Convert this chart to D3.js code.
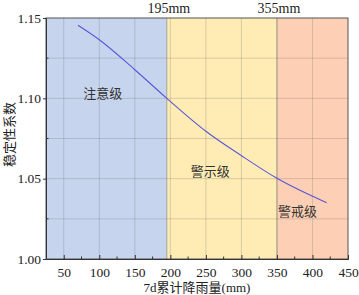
<!DOCTYPE html>
<html>
<head>
<meta charset="utf-8">
<script src="https://cdn.jsdelivr.net/npm/d3@7"></script>
<style>
  body { margin: 0; background: #fff; }
  svg text { font-family: "Liberation Serif", "Noto Sans CJK SC", serif; fill: #222; }
</style>
</head>
<body>
<div id="chart"></div>
<script>
// rainfall (mm) vs stability factor
const rainfall = [70, 100, 150, 195, 250, 300, 350, 420];
const stability = [1.1455, 1.1365, 1.1178, 1.1000, 1.0795, 1.0643, 1.0502, 1.0350];

// warning zones
const zoneNames = ["注意级", "警示级", "警戒级"];
const zoneStart = [25, 195, 350];
const zoneEnd = [195, 350, 450];
const zoneColors = ["#c6d4ed", "#feecb4", "#fdcfb4"];
const zoneLabelX = [105, 256, 379];
const zoneLabelY = [1.1005, 1.0517, 1.0268];
const boundaryLabels = ["195mm", "355mm"];

const xTicks = [50, 100, 150, 200, 250, 300, 350, 400, 450];
const yTicks = [1.00, 1.05, 1.10, 1.15];

const margin = { top: 18, right: 11, bottom: 36, left: 46 };
const width = 359 - margin.left - margin.right;
const height = 295 - margin.top - margin.bottom;

const svg = d3.select("#chart").append("svg")
    .attr("width", 359)
    .attr("height", 295)
  .append("g")
    .attr("transform", `translate(${margin.left},${margin.top})`);

const xScale = d3.scaleLinear().domain([25, 450]).range([0, width]);
const yScale = d3.scaleLinear().domain([1.00, 1.15]).range([height, 0]);

// zone backgrounds
svg.selectAll("rect.zone")
    .data(zoneNames)
  .enter().append("rect")
    .attr("class", "zone")
    .attr("x", (d, i) => xScale(zoneStart[i]))
    .attr("y", 0)
    .attr("width", (d, i) => xScale(zoneEnd[i]) - xScale(zoneStart[i]))
    .attr("height", height)
    .style("fill", (d, i) => zoneColors[i]);

// grid
const xGrid = d3.range(50, 450, 50);
const yGrid = d3.range(1.025, 1.15, 0.025);
svg.selectAll("line.vgrid")
    .data(xGrid)
  .enter().append("line")
    .attr("x1", d => xScale(d)).attr("x2", d => xScale(d))
    .attr("y1", 0).attr("y2", height)
    .style("stroke", "rgba(90,90,90,0.22)");
svg.selectAll("line.hgrid")
    .data(yGrid)
  .enter().append("line")
    .attr("x1", 0).attr("x2", width)
    .attr("y1", d => yScale(d)).attr("y2", d => yScale(d))
    .style("stroke", "rgba(90,90,90,0.22)");

// zone boundaries
svg.selectAll("line.bound")
    .data(zoneStart.slice(1))
  .enter().append("line")
    .attr("x1", d => xScale(d)).attr("x2", d => xScale(d))
    .attr("y1", 0).attr("y2", height)
    .style("stroke", "rgba(110,110,110,0.55)");

svg.selectAll("text.bound")
    .data(boundaryLabels)
  .enter().append("text")
    .attr("x", (d, i) => xScale(zoneStart[i + 1]) + 2)
    .attr("y", -5)
    .style("text-anchor", "middle")
    .style("font-size", "14px")
    .text(d => d);

// curve
const line = d3.line()
    .x((d, i) => xScale(rainfall[i]))
    .y(d => yScale(d))
    .curve(d3.curveMonotoneX);
svg.append("path")
    .datum(stability)
    .attr("d", line)
    .style("fill", "none")
    .style("stroke", "#5a58d8")
    .style("stroke-width", 1.1);

// zone labels
svg.selectAll("text.zone")
    .data(zoneNames)
  .enter().append("text")
    .attr("x", (d, i) => xScale(zoneLabelX[i]))
    .attr("y", (d, i) => yScale(zoneLabelY[i]))
    .style("text-anchor", "middle")
    .style("font-size", "13px")
    .style("fill", "#333")
    .text(d => d);

// frame
svg.append("rect")
    .attr("width", width).attr("height", height)
    .style("fill", "none")
    .style("stroke", "#555");

// axes
const xAxis = svg.append("g")
    .attr("transform", `translate(0,${height})`)
    .call(d3.axisBottom(xScale).tickValues(xTicks).tickSize(-4).tickPadding(8).tickFormat(d3.format("d")));
xAxis.selectAll("line.minor")
    .data(d3.range(75, 450, 50))
  .enter().append("line")
    .attr("x1", d => xScale(d)).attr("x2", d => xScale(d))
    .attr("y1", 0).attr("y2", -2.5)
    .style("stroke", "#333");

const yAxis = svg.append("g")
    .call(d3.axisLeft(yScale).tickValues(yTicks).tickSize(3).tickPadding(2).tickFormat(d3.format(".2f")));
yAxis.selectAll("line.minor")
    .data([1.025, 1.075, 1.125])
  .enter().append("line")
    .attr("x1", 0).attr("x2", 2.5)
    .attr("y1", d => yScale(d)).attr("y2", d => yScale(d))
    .style("stroke", "#333");

[xAxis, yAxis].forEach(a => {
    a.select(".domain").style("stroke", "#333");
    a.selectAll(".tick line").style("stroke", "#333");
    a.selectAll(".tick text")
        .style("font-size", "13.5px")
        .style("font-family", "Liberation Serif")
        .style("fill", "#222");
});

// axis titles
svg.append("text")
    .attr("x", width / 2)
    .attr("y", height + 33)
    .style("text-anchor", "middle")
    .style("font-size", "13px")
    .text("7d累计降雨量(mm)");

svg.append("text")
    .attr("transform", "rotate(-90)")
    .attr("x", -(height / 2) + 4)
    .attr("y", -32)
    .style("text-anchor", "middle")
    .style("font-size", "13px")
    .text("稳定性系数");
</script>
</body>
</html>
